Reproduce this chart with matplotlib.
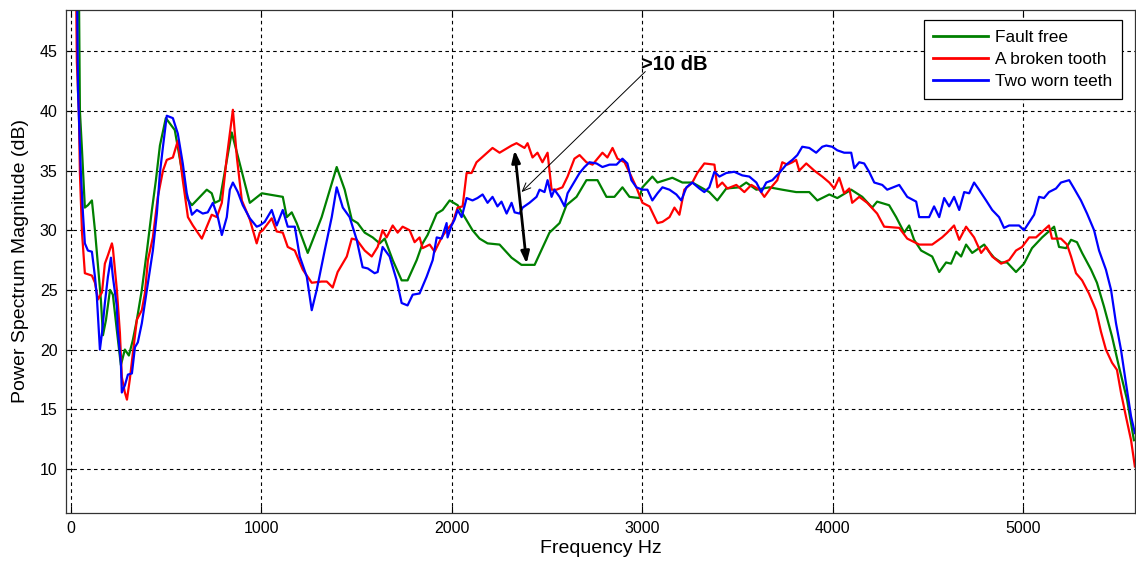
import matplotlib
matplotlib.use('Agg')
import matplotlib.pyplot as plt

# Fault free (green)
green_f = [30, 42, 47, 58, 73, 89, 110, 126, 142, 157, 168, 184, 205, 220, 241, 262, 283, 304, 325, 346,
           372, 399, 425, 446, 467, 498, 545, 608, 635, 713, 739, 755, 781, 844, 886, 939, 1002, 1112, 1133, 1159,
           1185, 1243, 1316, 1395, 1437, 1474, 1505, 1542, 1584, 1621, 1647, 1689, 1736, 1767, 1815, 1846, 1872, 1920, 1951, 1988,
           2030, 2056, 2108, 2145, 2187, 2250, 2313, 2365, 2434, 2512, 2565, 2601, 2654, 2706, 2764, 2811, 2853, 2895, 2932, 2984,
           3000, 3052, 3079, 3157, 3210, 3262, 3351, 3393, 3440, 3509, 3545, 3598, 3666, 3734, 3807, 3876, 3918, 3981, 4023, 4096,
           4154, 4206, 4232, 4295, 4332, 4374, 4400, 4426, 4463, 4521, 4558, 4594, 4620, 4647, 4673, 4699, 4731, 4767, 4794, 4820,
           4846, 4883, 4914, 4961, 5003, 5045, 5098, 5161, 5187, 5224, 5250, 5281, 5308, 5355, 5386, 5423, 5465, 5501, 5544, 5580]
green_db = [55, 50, 40, 36.7, 31.9, 32.1, 32.5, 30.0, 27.0, 24.2, 21.2, 22.5, 25.0, 24.6, 21.6, 18.7, 20.0, 19.5, 20.8, 22.5,
            25.0, 28.3, 31.7, 34.2, 37.1, 39.4, 38.4, 32.7, 32.1, 33.4, 33.1, 32.3, 32.5, 38.2, 35.6, 32.3, 33.1, 32.8, 31.1, 31.5,
            30.6, 28.1, 31.1, 35.3, 33.4, 30.9, 30.6, 29.8, 29.4, 28.9, 29.3, 27.5, 25.8, 25.8, 27.5, 28.9, 29.6, 31.4, 31.7, 32.5,
            32.1, 31.4, 30.0, 29.3, 28.9, 28.8, 27.7, 27.1, 27.1, 29.8, 30.6, 32.1, 32.8, 34.2, 34.2, 32.8, 32.8, 33.6, 32.8, 32.7,
            33.6, 34.5, 34.0, 34.4, 34.0, 34.0, 33.2, 32.5, 33.5, 33.6, 34.0, 33.4, 33.6, 33.4, 33.2, 33.2, 32.5, 33.0, 32.7, 33.4,
            32.8, 31.9, 32.4, 32.1, 31.1, 29.8, 30.4, 29.2, 28.3, 27.8, 26.5, 27.3, 27.2, 28.2, 27.8, 28.8, 28.1, 28.5, 28.8, 28.2,
            27.7, 27.3, 27.3, 26.5, 27.2, 28.5, 29.4, 30.3, 28.6, 28.5, 29.2, 29.0, 28.1, 26.7, 25.6, 23.6, 21.1, 18.6, 15.8, 12.4]

# A broken tooth (red)
red_f = [26, 31, 42, 47, 58, 73, 110, 126, 142, 163, 178, 194, 215, 220, 241, 257, 267, 283, 294, 309,
         325, 346, 372, 388, 404, 430, 456, 483, 503, 535, 561, 587, 614, 640, 687, 739, 766, 792, 818, 850,
         871, 897, 939, 975, 991, 1007, 1054, 1080, 1112, 1138, 1175, 1217, 1264, 1316, 1343, 1374, 1400, 1448, 1474, 1500,
         1542, 1579, 1610, 1636, 1657, 1689, 1715, 1741, 1778, 1804, 1830, 1846, 1883, 1909, 1946, 1972, 2003, 2030, 2056, 2077,
         2103, 2129, 2171, 2213, 2250, 2313, 2339, 2381, 2397, 2423, 2449, 2475, 2502, 2523, 2549, 2580, 2607, 2643, 2670, 2706,
         2738, 2790, 2816, 2843, 2869, 2906, 2942, 2968, 3000, 3037, 3079, 3105, 3142, 3168, 3194, 3220, 3262, 3288, 3325, 3378,
         3393, 3419, 3446, 3493, 3535, 3572, 3614, 3640, 3676, 3708, 3734, 3760, 3787, 3807, 3823, 3860, 3902, 3944, 3981, 4007,
         4033, 4059, 4086, 4101, 4138, 4180, 4232, 4269, 4348, 4390, 4453, 4521, 4573, 4600, 4636, 4663, 4699, 4741, 4778, 4804,
         4836, 4883, 4925, 4961, 4993, 5030, 5066, 5093, 5134, 5150, 5197, 5229, 5250, 5276, 5308, 5344, 5381, 5407, 5433, 5465,
         5491, 5512, 5538, 5565, 5585]
red_db = [52, 44.1, 39.6, 34.8, 29.8, 26.4, 26.2, 25.6, 24.2, 24.8, 27.2, 27.9, 28.9, 28.5, 25.0, 21.4, 17.7, 16.4, 15.8, 17.5,
          19.7, 22.5, 23.3, 24.7, 27.5, 29.4, 32.8, 35.0, 35.9, 36.1, 37.5, 34.2, 31.1, 30.4, 29.3, 31.3, 31.1, 32.3, 36.1, 40.1,
          36.1, 32.5, 30.9, 28.9, 29.8, 30.0, 31.0, 29.9, 29.8, 28.6, 28.3, 26.7, 25.6, 25.7, 25.7, 25.2, 26.5, 27.8, 29.3, 29.2,
          28.3, 27.8, 28.6, 30.0, 29.4, 30.4, 29.8, 30.3, 30.0, 29.0, 29.4, 28.5, 28.8, 28.2, 29.4, 30.0, 30.6, 31.9, 32.0, 34.8,
          34.8, 35.7, 36.3, 36.9, 36.5, 37.1, 37.3, 36.9, 37.3, 36.1, 36.5, 35.7, 36.5, 33.4, 33.4, 33.6, 34.5, 36.0, 36.3, 35.7,
          35.5, 36.5, 36.1, 36.9, 36.0, 35.7, 34.5, 33.6, 32.3, 32.0, 30.6, 30.7, 31.1, 31.9, 31.3, 33.4, 34.0, 34.8, 35.6, 35.5,
          33.6, 34.0, 33.5, 33.8, 33.2, 33.8, 33.4, 32.8, 33.6, 34.2, 35.7, 35.5, 35.7, 35.9, 35.0, 35.6, 35.0, 34.5, 34.0, 33.5,
          34.4, 33.1, 33.5, 32.3, 32.8, 32.3, 31.4, 30.3, 30.2, 29.3, 28.8, 28.8, 29.4, 29.8, 30.4, 29.2, 30.3, 29.4, 28.1, 28.6,
          27.8, 27.2, 27.5, 28.3, 28.6, 29.4, 29.4, 29.8, 30.4, 29.3, 29.3, 28.8, 27.8, 26.4, 25.8, 24.7, 23.3, 21.5, 20.0, 18.9,
          18.3, 16.4, 14.4, 12.4, 10.2]

# Two worn teeth (blue)
blue_f = [31, 37, 52, 63, 73, 89, 110, 126, 136, 142, 152, 163, 178, 194, 210, 220, 241, 246, 262, 267,
          283, 299, 320, 336, 351, 372, 388, 404, 430, 451, 467, 483, 503, 535, 561, 587, 608, 635, 661, 692,
          718, 745, 771, 792, 818, 834, 850, 876, 902, 939, 975, 991, 1017, 1054, 1080, 1112, 1138, 1175, 1201, 1238,
          1264, 1290, 1332, 1369, 1395, 1427, 1463, 1500, 1531, 1558, 1594, 1610, 1636, 1673, 1710, 1736, 1767, 1794, 1830, 1867,
          1899, 1920, 1946, 1972, 1977, 1998, 2014, 2030, 2051, 2077, 2108, 2134, 2161, 2187, 2213, 2239, 2260, 2287, 2313, 2329,
          2355, 2371, 2407, 2444, 2460, 2486, 2502, 2523, 2538, 2565, 2591, 2607, 2633, 2670, 2696, 2722, 2759, 2790, 2827, 2864,
          2895, 2921, 2942, 2968, 3000, 3026, 3052, 3079, 3105, 3142, 3178, 3204, 3231, 3262, 3299, 3325, 3351, 3378, 3404, 3440,
          3482, 3524, 3561, 3598, 3624, 3650, 3682, 3718, 3755, 3787, 3813, 3839, 3876, 3912, 3944, 3965, 3996, 4023, 4059, 4096,
          4112, 4138, 4164, 4190, 4217, 4259, 4285, 4348, 4390, 4437, 4453, 4505, 4531, 4558, 4584, 4610, 4636, 4663, 4689, 4715,
          4741, 4767, 4804, 4836, 4872, 4898, 4925, 4977, 5003, 5040, 5056, 5082, 5108, 5134, 5171, 5197, 5240, 5266, 5302, 5334,
          5371, 5397, 5433, 5460, 5486, 5512, 5538, 5565, 5585]
blue_db = [52, 41.7, 34.8, 31.4, 28.9, 28.3, 28.2, 26.1, 24.4, 22.7, 20.0, 21.4, 23.9, 26.1, 27.7, 26.1, 23.6, 21.6, 18.9, 16.4,
           17.0, 17.9, 18.0, 20.2, 20.6, 22.2, 23.9, 25.6, 28.3, 31.4, 34.8, 37.0, 39.6, 39.4, 38.1, 35.6, 33.1, 31.3, 31.7, 31.4,
           31.5, 32.3, 31.1, 29.6, 31.1, 33.4, 34.0, 33.2, 32.1, 31.0, 30.3, 30.4, 30.7, 31.7, 30.4, 31.7, 30.3, 30.3, 27.8, 26.1,
           23.3, 25.0, 28.3, 31.1, 33.6, 31.9, 31.1, 29.2, 26.9, 26.8, 26.4, 26.5, 28.6, 27.8, 25.8, 23.9, 23.7, 24.6, 24.7, 26.1,
           27.5, 29.4, 29.3, 30.6, 29.4, 30.4, 30.9, 31.7, 31.1, 32.7, 32.5, 32.7, 33.0, 32.3, 32.8, 32.0, 32.4, 31.4, 32.3, 31.5,
           31.4, 31.9, 32.3, 32.8, 33.4, 33.2, 34.2, 32.8, 33.4, 32.8, 32.0, 33.1, 33.8, 34.8, 35.3, 35.7, 35.6, 35.3, 35.5, 35.5,
           36.0, 35.6, 34.2, 33.6, 33.4, 33.4, 32.5, 33.1, 33.6, 33.4, 33.0, 32.5, 33.6, 34.0, 33.5, 33.2, 33.6, 34.9, 34.5, 34.8,
           34.9, 34.6, 34.5, 34.0, 33.2, 34.0, 34.2, 34.8, 35.5, 35.9, 36.3, 37.0, 36.9, 36.5, 37.0, 37.1, 37.0, 36.7, 36.5, 36.5,
           35.2, 35.7, 35.6, 34.9, 34.0, 33.8, 33.4, 33.8, 32.8, 32.4, 31.1, 31.1, 32.0, 31.1, 32.7, 32.0, 32.8, 31.7, 33.2, 33.1,
           34.0, 33.4, 32.5, 31.7, 31.1, 30.2, 30.4, 30.4, 30.0, 30.9, 31.3, 32.8, 32.7, 33.2, 33.5, 34.0, 34.2, 33.5, 32.5, 31.4,
           30.0, 28.3, 26.7, 25.0, 22.2, 20.0, 17.2, 14.4, 13.0]

labels = ["Fault free", "A broken tooth", "Two worn teeth"]
x_ticks = [0, 1000, 2000, 3000, 4000, 5000]
y_ticks = [10, 15, 20, 25, 30, 35, 40, 45]

# difference marker between broken tooth and fault free
gap_top = (2329, 36.7)
gap_bottom = (2392, 27.2)
note_text = ">10 dB"
note_pos = (2995, 43.9)
note_tip = (2365, 33.2)


def main():
    plt.rcParams['font.family'] = ['Liberation Sans', 'DejaVu Sans']
    fig = plt.figure(figsize=(11.36, 5.62), dpi=100)
    ax = fig.add_axes([0.0581, 0.0872, 0.9409, 0.8958])

    ax.plot(green_f, green_db, color="#008000", lw=1.6, label=labels[0])
    ax.plot(red_f, red_db, color="#ff0000", lw=1.6, label=labels[1])
    ax.plot(blue_f, blue_db, color="#0000ff", lw=1.6, label=labels[2])

    ax.set_xlim(-26, 5585)
    ax.set_ylim(6.3, 48.5)
    ax.set_xticks(x_ticks)
    ax.set_yticks(y_ticks)
    ax.grid(True, color="k", linestyle=(0, (3.2, 3.0)), lw=0.8)
    ax.tick_params(direction="in", length=5, labelsize=11.5, top=True, pad=6)
    for s in ax.spines.values():
        s.set_linewidth(0.9)
        s.set_color("#333333")

    ax.set_xlabel("Frequency Hz", fontsize=14, labelpad=3)
    ax.set_ylabel("Power Spectrum Magnitude (dB)", fontsize=14, labelpad=8)

    # thick double arrow
    ax.annotate("", xy=gap_top, xytext=gap_bottom,
                arrowprops=dict(arrowstyle="<|-|>,head_length=0.7,head_width=0.25",
                                color="k", lw=2, shrinkA=0, shrinkB=0))
    ax.annotate("", xy=note_tip, xytext=(note_pos[0] + 20, note_pos[1] - 0.6),
                arrowprops=dict(arrowstyle="->,head_length=0.6,head_width=0.25",
                                color="k", lw=0.7, shrinkA=0, shrinkB=0))
    ax.text(note_pos[0], note_pos[1], note_text, fontsize=14.5, fontweight="bold",
            ha="left", va="center")

    leg = ax.legend(loc="upper right", bbox_to_anchor=(0.988, 0.979), borderaxespad=0,
                    fontsize=12.4, fancybox=False, framealpha=1, edgecolor="k",
                    handlelength=3.2, handletextpad=0.4, labelspacing=0.42, borderpad=0.55)
    leg.get_frame().set_linewidth(0.9)
    for h in leg.legend_handles:
        h.set_linewidth(2)

    fig.savefig("out.png", dpi=100)
    plt.close(fig)


if __name__ == "__main__":
    main()
